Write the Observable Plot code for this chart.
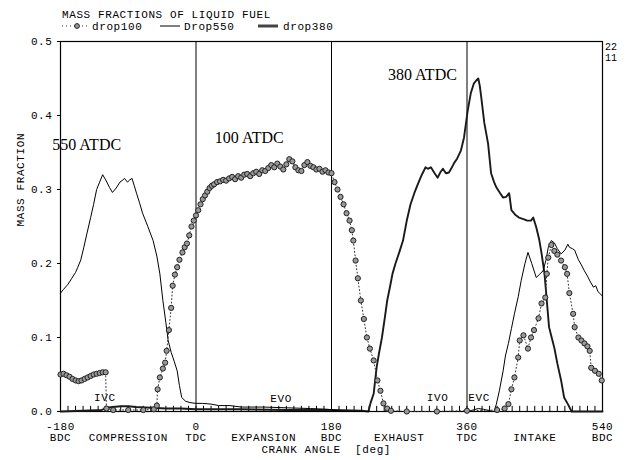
<!DOCTYPE html>
<html>
<head>
<meta charset="utf-8">
<script src="https://cdn.jsdelivr.net/npm/d3@7"></script>
<script src="https://cdn.jsdelivr.net/npm/@observablehq/plot@0.6"></script>
<style>
  html, body { margin: 0; padding: 0; background: white; }
  #wrap { position: relative; width: 626px; height: 460px; }
  #overlay { position: absolute; left: 0; top: 0; pointer-events: none; }
</style>
</head>
<body>
<div id="wrap"></div>
<script>
// ---- data ----
const titleText = "MASS FRACTIONS OF LIQUID FUEL";
const seriesNames = ["drop100", "Drop550", "drop380"];

// drop100: dotted line with circle markers
const drop100Deg = [-180,-176,-172,-168,-164,-160,-156,-152,-148,-144,-140,-136,-132,-128,-124,-120,-119,-110,-90,-70,-56,
  -52,-51,-48,-44,-41,-39,-36,-33,-31,-28,-25,-22,-18,-15,-12,-9,-6,-3,0,3,6,9,12,15,18,21,24,28,32,36,40,44,48,52,56,60,64,68,72,76,80,84,88,92,96,100,104,108,112,116,120,124,128,132,136,140,144,148,152,156,160,164,168,172,176,180,
  184,188,192,196,200,204,207,209,212,215,219,223,227,231,236,241,245,249,254,259,280,320,360,400,410,
  415,419,423,428,430,435,441,445,449,455,459,464,466,468,472,476,480,485,490,493,496,501,503,508,512,516,520,523,525,530,535,539];
const drop100Val = [0.050,0.051,0.049,0.047,0.044,0.042,0.041,0.042,0.044,0.046,0.048,0.050,0.051,0.052,0.053,0.053,0.004,0.002,0.002,0.002,0.003,
  0.008,0.030,0.046,0.058,0.066,0.082,0.110,0.140,0.170,0.185,0.195,0.205,0.215,0.222,0.227,0.238,0.250,0.258,0.265,0.272,0.280,0.287,0.292,0.297,0.302,0.305,0.307,0.310,0.311,0.313,0.312,0.315,0.317,0.314,0.318,0.316,0.320,0.321,0.318,0.322,0.324,0.321,0.326,0.325,0.329,0.333,0.330,0.335,0.331,0.327,0.334,0.341,0.338,0.330,0.326,0.325,0.333,0.337,0.332,0.330,0.327,0.328,0.324,0.326,0.323,0.322,
  0.310,0.300,0.290,0.280,0.268,0.258,0.245,0.231,0.204,0.180,0.150,0.125,0.100,0.085,0.069,0.042,0.028,0.011,0.004,0.001,0.000,0.000,0.001,0.002,0.004,
  0.010,0.030,0.046,0.073,0.096,0.103,0.085,0.100,0.110,0.126,0.146,0.154,0.186,0.208,0.225,0.217,0.212,0.204,0.195,0.186,0.160,0.132,0.114,0.100,0.096,0.092,0.088,0.082,0.059,0.055,0.051,0.042];

// Drop550: thin line
const drop550Deg = [-180,-176,-170,-165,-160,-157,-153,-149,-145,-140,-136,-132,-128,-124,-120,-115,-111,-106,-101,-97,-95,-91,-88,-85,-82,-79,-75,-71,-64,-57,-52,-48,-44,-40,-37,-33,-29,-25,-22,-19,-14,-8,0,9,20,30,45,60,90,120,152,175,190,200,360,368,375,382,390,396,
  399,403,408,411,415,419,423,428,432,437,441,446,452,456,461,465,468,472,476,480,485,490,494,496,500,503,508,512,516,520,524,528,531,534,539];
const drop550Val = [0.160,0.165,0.172,0.180,0.188,0.195,0.205,0.222,0.240,0.262,0.280,0.300,0.310,0.320,0.313,0.303,0.296,0.302,0.310,0.313,0.315,0.310,0.313,0.315,0.305,0.295,0.282,0.268,0.250,0.231,0.210,0.186,0.150,0.120,0.096,0.080,0.068,0.055,0.035,0.019,0.014,0.012,0.011,0.011,0.010,0.008,0.008,0.006,0.006,0.005,0.004,0.003,0.001,0.000,0.000,0.002,0.004,0.003,0.001,0.000,
  0.010,0.028,0.055,0.075,0.092,0.112,0.132,0.155,0.177,0.200,0.215,0.200,0.181,0.185,0.190,0.205,0.222,0.231,0.228,0.220,0.213,0.218,0.226,0.222,0.220,0.218,0.205,0.198,0.190,0.183,0.175,0.168,0.170,0.162,0.157];

// drop380: thick line
const drop380Deg = [-180,-150,-125,-120,-110,-100,-90,-80,-60,-40,-20,0,60,120,180,220,229,232,236,240,243,247,251,254,258,261,265,270,275,280,285,290,295,300,305,308,312,317,321,325,328,332,336,340,343,347,352,356,361,365,369,372,375,377,379,383,388,392,396,399,404,408,412,416,419,424,429,435,440,445,448,452,456,459,463,466,469,473,476,480,485,489,494,499,540];
const drop380Val = [0.000,0.001,0.002,0.005,0.006,0.007,0.007,0.006,0.005,0.004,0.004,0.003,0.003,0.002,0.002,0.001,0.000,0.012,0.024,0.060,0.078,0.100,0.128,0.150,0.170,0.186,0.200,0.215,0.231,0.258,0.280,0.295,0.308,0.320,0.330,0.328,0.330,0.322,0.316,0.324,0.328,0.322,0.323,0.330,0.336,0.342,0.353,0.370,0.407,0.430,0.443,0.447,0.450,0.440,0.424,0.390,0.362,0.322,0.310,0.303,0.295,0.289,0.290,0.295,0.272,0.266,0.262,0.260,0.258,0.258,0.262,0.249,0.232,0.214,0.186,0.150,0.114,0.098,0.086,0.065,0.042,0.019,0.010,0.000,0.000];

// axes / labels
const xTicks = [-180, 0, 180, 360, 540];
const xTickNames = ["BDC", "TDC", "BDC", "TDC", "BDC"];
const yTicks = [0, 0.1, 0.2, 0.3, 0.4, 0.5];
const deadCentres = [0, 180, 360];
const minorTicks = d3.range(-170, 540, 10);
const phaseX = [-90, 90, 270, 450];
const phaseNames = ["COMPRESSION", "EXPANSION", "EXHAUST", "INTAKE"];
const valveX = [-121, 113, 321, 376];
const valveNames = ["IVC", "EVO", "IVO", "EVC"];
const valveY = [0.019, 0.018, 0.019, 0.019];
const injLabels = ["550 ATDC", "100 ATDC", "380 ATDC"];
const injX = [-191, 25, 255];
const injY = [0.36, 0.37, 0.455];
const axisTitleX = "CRANK ANGLE  [deg]";
const axisTitleXPos = [173];
const axisTitleY = "MASS FRACTION";

// ---- build tables ----
const d100 = drop100Deg.map((d, i) => ({deg: d, v: drop100Val[i]}));
const d550 = drop550Deg.map((d, i) => ({deg: d, v: drop550Val[i]}));
const d380 = drop380Deg.map((d, i) => ({deg: d, v: drop380Val[i]}));

const mono = "'Liberation Mono', 'DejaVu Sans Mono', monospace";
const serif = "'Liberation Serif', 'DejaVu Serif', serif";

const chart = Plot.plot({
  width: 626,
  height: 460,
  marginLeft: 60,
  marginRight: 24,
  marginTop: 41,
  marginBottom: 49,
  x: {domain: [-180, 540]},
  y: {domain: [0, 0.5]},
  style: {fontFamily: mono, fontSize: "11px", letterSpacing: "0.6px", color: "black", background: "white", overflow: "visible"},
  marks: [
    Plot.frame({stroke: "black", strokeWidth: 1.2}),
    Plot.ruleX(deadCentres, {stroke: "black", strokeWidth: 1}),
    Plot.ruleX(minorTicks, {y1: 0, y2: 0.007, stroke: "black", strokeWidth: 1}),
    Plot.axisY({ticks: yTicks, tickFormat: d3.format(".1f"), tickSize: 3, tickPadding: 5, label: null, fontSize: 11}),
    Plot.axisX({ticks: xTicks, tickFormat: (d, i) => d + "\n" + xTickNames[i], tickSize: 0, tickPadding: 11, label: null, fontSize: 11, lineHeight: 1}),
    Plot.text(phaseNames, {x: phaseX, text: d => d, frameAnchor: "bottom", dy: 29, fontSize: 11}),
    Plot.text([axisTitleX], {x: axisTitleXPos, text: d => d, frameAnchor: "bottom", dy: 41, fontSize: 11}),
    Plot.text([axisTitleY], {frameAnchor: "left", dx: -40, rotate: -90, text: d => d, fontSize: 11}),
    Plot.text(valveNames, {x: valveX, y: valveY, text: d => d, fontSize: 11}),
    Plot.text(injLabels, {x: injX, y: injY, text: d => d, textAnchor: "start", fontFamily: serif, fontSize: 16, style: {letterSpacing: "0px"}}),
    // drop380 thick
    Plot.line(d380, {x: "deg", y: "v", stroke: "#1a1a1a", strokeWidth: 1.9, curve: "linear"}),
    // Drop550 thin
    Plot.line(d550, {x: "deg", y: "v", stroke: "black", strokeWidth: 1, curve: "linear"}),
    // drop100 dotted + circles
    Plot.line(d100, {x: "deg", y: "v", stroke: "#333", strokeWidth: 1, strokeDasharray: "1,2.5"}),
    Plot.dot(d100, {x: "deg", y: "v", r: 2.6, fill: "#999", stroke: "#222", strokeWidth: 1})
  ]
});

const wrap = document.getElementById("wrap");
wrap.appendChild(chart);
// serif annotations without extra letter spacing
d3.select(chart).selectAll("text").filter(function () {
  return injLabels.includes(this.textContent);
}).style("letter-spacing", "0px");

// ---- title, legend and corner marks (overlay) ----
const ov = d3.select(wrap).append("svg")
  .attr("id", "overlay").attr("width", 626).attr("height", 460)
  .style("font-family", mono).style("font-size", "11px").style("letter-spacing", "0.6px");

ov.append("text").attr("x", 62).attr("y", 18).text(titleText);

// legend entry drop100
ov.append("line").attr("x1", 62).attr("x2", 88).attr("y1", 26).attr("y2", 26)
  .attr("stroke", "#333").attr("stroke-dasharray", "1,3");
ov.append("circle").attr("cx", 77).attr("cy", 26).attr("r", 2.4)
  .attr("fill", "#999").attr("stroke", "#222");
ov.append("text").attr("x", 92).attr("y", 30).text(seriesNames[0]);
// legend entry Drop550
ov.append("line").attr("x1", 160).attr("x2", 180).attr("y1", 26).attr("y2", 26)
  .attr("stroke", "black").attr("stroke-width", 1);
ov.append("text").attr("x", 184).attr("y", 30).text(seriesNames[1]);
// legend entry drop380
ov.append("line").attr("x1", 258).attr("x2", 278).attr("y1", 26).attr("y2", 26)
  .attr("stroke", "#444").attr("stroke-width", 3);
ov.append("text").attr("x", 283).attr("y", 30).text(seriesNames[2]);

ov.append("text").attr("x", 605).attr("y", 50).style("font-size", "10px").style("letter-spacing", "0px").text("22");
ov.append("text").attr("x", 605).attr("y", 61).style("font-size", "10px").style("letter-spacing", "0px").text("11");
</script>
</body>
</html>
